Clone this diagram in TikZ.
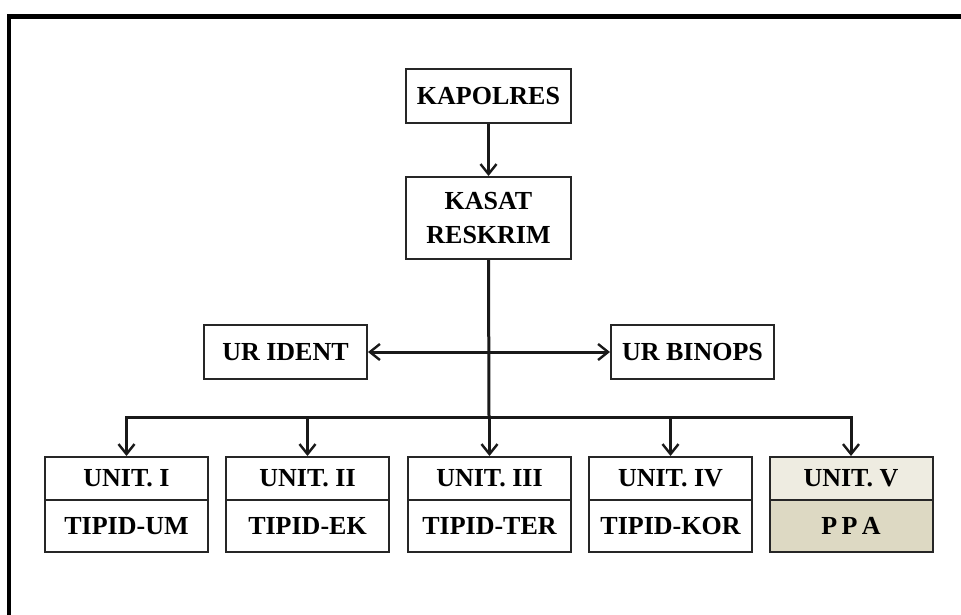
\documentclass[tikz,border=0pt]{standalone}
\usepackage{fontspec}
\setmainfont{Liberation Serif}
\usetikzlibrary{arrows.meta}
\definecolor{tanlight}{HTML}{EEECE1}
\definecolor{tandark}{HTML}{DDD9C3}
\begin{document}
\begin{tikzpicture}[x=1pt,y=-1pt,
  box/.style={draw=black!85,line width=2pt,fill=white,inner sep=0pt,
    minimum width=163pt,minimum height=54pt,align=center,
    font=\fontsize{26}{34}\selectfont\bfseries},
  toppart/.style={box,minimum height=43pt},
  botpart/.style={box,minimum height=52pt},
  conn/.style={line width=3pt,black!90},
  arr/.style={conn,-{Straight Barb[length=10pt,width=16pt,line width=2.4pt]}},
  arrboth/.style={conn,{Straight Barb[length=10pt,width=16pt,line width=2.4pt]}-{Straight Barb[length=10pt,width=16pt,line width=2.4pt]}}
]
\useasboundingbox (0,0) rectangle (961,614);
% frame
\draw[line width=4.5pt,line cap=rect] (9,614) -- (9,16.5) -- (961,16.5);

% nodes
\node[box,minimum width=165pt] (kapolres) at (488.5,96) {KAPOLRES};
\node[box,minimum width=165pt,minimum height=82pt] (kasat) at (488.5,218) {KASAT\\RESKRIM};
\node[box] (urident) at (285.5,352) {UR IDENT};
\node[box] (urbinops) at (692.5,352) {UR BINOPS};

\node[toppart] (u1) at (126.5,478.5) {UNIT. I};
\node[botpart] (l1) at (126.5,526) {TIPID-UM};
\node[toppart] (u2) at (307.5,478.5) {UNIT. II};
\node[botpart] (l2) at (307.5,526) {TIPID-EK};
\node[toppart] (u3) at (489.5,478.5) {UNIT. III};
\node[botpart] (l3) at (489.5,526) {TIPID-TER};
\node[toppart] (u4) at (670.5,478.5) {UNIT. IV};
\node[botpart] (l4) at (670.5,526) {TIPID-KOR};
\node[toppart,fill=tanlight] (u5) at (851,478.5) {UNIT. V};
\node[botpart,fill=tandark] (l5) at (851,526) {P\,P\,A};

\coordinate (bus) at (489,417);

% connectors
\draw[arr] (kapolres) -- (kasat);
\draw[conn] (kasat.south) -- (bus);
\draw[arrboth] (urident.east) -- (urbinops.west);
\draw[conn,line cap=rect] (u1.north |- bus) -- (u5.north |- bus);
\foreach \n in {u1,u2,u3,u4,u5}{
  \draw[arr] (\n.north |- bus) -- (\n.north);
}
\end{tikzpicture}
\end{document}
